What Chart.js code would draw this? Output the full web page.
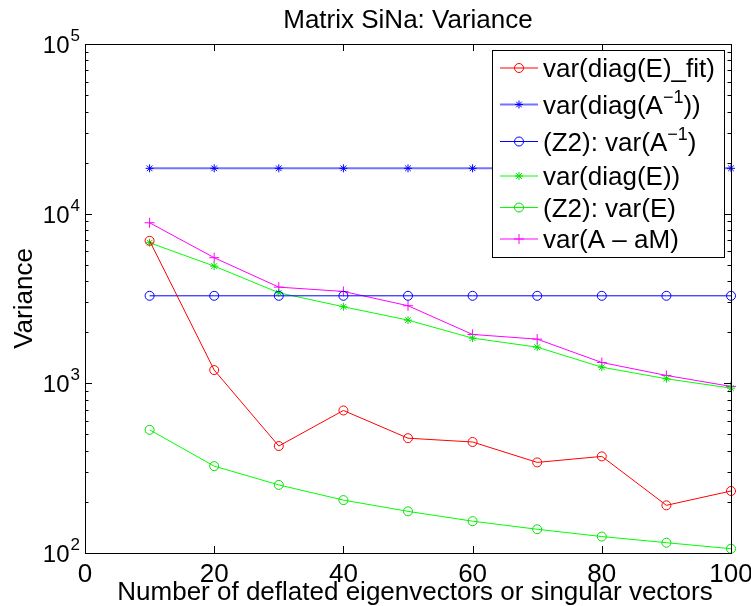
<!DOCTYPE html>
<html>
<head>
<meta charset="utf-8">
<script src="https://cdn.jsdelivr.net/npm/chart.js@4.4.0/dist/chart.umd.min.js"></script>
<style>
  body { margin: 0; background: #fff; }
  #wrap { width: 751px; height: 606px; }
</style>
</head>
<body>
<div id="wrap"><canvas id="variance-chart" width="751" height="606"></canvas></div>
<script>
// data
const nDeflated = [10, 20, 30, 40, 50, 60, 70, 80, 90, 100];
const varDiagEFit = [6920, 1197, 427, 692, 475, 451, 342, 371, 191, 232];
const varDiagAinv = [18500, 18500, 18500, 18500, 18500, 18500, 18500, 18500, 18500, 18500];
const z2VarAinv = [3280, 3280, 3280, 3280, 3280, 3280, 3280, 3280, 3280, 3280];
const varDiagE = [6740, 4908, 3420, 2827, 2358, 1847, 1634, 1245, 1064, 937];
const z2VarE = [532, 325, 252, 205, 176, 154, 138, 125, 115, 106];
const varAminusAM = [8840, 5500, 3690, 3480, 2866, 1941, 1822, 1327, 1113, 959];

const xTicks = [0, 20, 40, 60, 80, 100];
const yTicks = [100, 1000, 10000, 100000];
const yTickExp = ['2', '3', '4', '5'];

// legend labels: [text, superscript, text]
const legendLabels = [
  ['var(diag(E)_fit)', '', ''],
  ['var(diag(A', '\u22121', '))'],
  ['(Z2): var(A', '\u22121', ')'],
  ['var(diag(E))', '', ''],
  ['(Z2): var(E)', '', ''],
  ['var(A \u2013 aM)', '', '']
];

const FONT = '"Liberation Sans", Arial, Helvetica, sans-serif';

function pts(ys) {
  return nDeflated.map((x, i) => ({ x: x, y: ys[i] }));
}

function series(data, lineColor, markColor, style, radius, width) {
  return {
    data: pts(data),
    borderColor: lineColor,
    borderWidth: width,
    pointStyle: style,
    pointRadius: radius,
    pointBorderColor: markColor,
    pointBackgroundColor: 'rgba(0,0,0,0)',
    pointBorderWidth: 1,
    tension: 0,
    fill: false,
    clip: false
  };
}

const datasets = [
  series(varDiagEFit, '#ff0000', '#ff0000', 'circle', 4.5, 1),
  series(varDiagAinv, 'rgba(0,0,255,0.55)', '#0000ff', 'star', 4, 2),
  series(z2VarAinv, '#0000ff', '#0000ff', 'circle', 4.5, 1),
  series(varDiagE, '#00ff00', '#00e000', 'star', 4, 1),
  series(z2VarE, '#00ff00', '#00e000', 'circle', 4.5, 1),
  series(varAminusAM, '#ff00ff', '#ff00ff', 'cross', 5, 1)
];

function drawMarker(ctx, style, x, y, r, color) {
  ctx.save();
  ctx.strokeStyle = color;
  ctx.lineWidth = 1;
  ctx.beginPath();
  if (style === 'circle') {
    ctx.arc(x, y, r, 0, Math.PI * 2);
  } else if (style === 'cross') {
    ctx.moveTo(x - r, y); ctx.lineTo(x + r, y);
    ctx.moveTo(x, y - r); ctx.lineTo(x, y + r);
  } else {
    const d = r * 0.707;
    ctx.moveTo(x - r, y); ctx.lineTo(x + r, y);
    ctx.moveTo(x, y - r); ctx.lineTo(x, y + r);
    ctx.moveTo(x - d, y - d); ctx.lineTo(x + d, y + d);
    ctx.moveTo(x - d, y + d); ctx.lineTo(x + d, y - d);
  }
  ctx.stroke();
  ctx.restore();
}

// axes box, ticks, labels, title and legend, matlab style
const matlabFrame = {
  id: 'matlabFrame',
  afterDraw(chart) {
    const { ctx, chartArea: a, scales } = chart;
    const xs = scales.x, ys = scales.y;
    ctx.save();
    ctx.strokeStyle = '#000';
    ctx.fillStyle = '#000';
    ctx.lineWidth = 1;

    // box
    ctx.strokeRect(a.left + 0.5, a.top + 0.5, a.right - a.left, a.bottom - a.top);

    // x ticks, bottom + top
    ctx.beginPath();
    xTicks.forEach(v => {
      const px = Math.round(xs.getPixelForValue(v)) + 0.5;
      ctx.moveTo(px, a.bottom); ctx.lineTo(px, a.bottom - 7);
      ctx.moveTo(px, a.top); ctx.lineTo(px, a.top + 7);
    });
    // y ticks (major + minor), left + right
    for (let k = 0; k < yTicks.length; k++) {
      for (let m = 1; m <= 9; m++) {
        const v = yTicks[k] * m;
        if (v > yTicks[yTicks.length - 1]) break;
        const py = Math.round(ys.getPixelForValue(v)) + 0.5;
        const len = m === 1 ? 7 : 3.5;
        ctx.moveTo(a.left, py); ctx.lineTo(a.left + len, py);
        ctx.moveTo(a.right, py); ctx.lineTo(a.right - len, py);
      }
    }
    ctx.stroke();

    // x tick labels
    ctx.font = '26px ' + FONT;
    ctx.textAlign = 'center';
    ctx.textBaseline = 'alphabetic';
    xTicks.forEach(v => {
      ctx.fillText(String(v), xs.getPixelForValue(v), 582);
    });

    // y tick labels 10^n
    yTicks.forEach((v, i) => {
      const py = ys.getPixelForValue(v);
      ctx.font = '17px ' + FONT;
      const wSup = ctx.measureText(yTickExp[i]).width;
      ctx.textAlign = 'left';
      ctx.fillText(yTickExp[i], 80 - wSup, py - 3);
      ctx.font = '24px ' + FONT;
      ctx.textAlign = 'right';
      ctx.fillText('10', 80 - wSup - 1, py + 9);
    });

    // axis titles
    ctx.font = '26px ' + FONT;
    ctx.textAlign = 'center';
    ctx.fillText('Number of deflated eigenvectors or singular vectors', 415, 600);
    ctx.fillText('Matrix SiNa: Variance', (a.left + a.right) / 2, 28);
    ctx.save();
    ctx.translate(32, (a.top + a.bottom) / 2);
    ctx.rotate(-Math.PI / 2);
    ctx.fillText('Variance', 0, 0);
    ctx.restore();

    // legend
    const lx = 492, ly = 50, lw = 232, lh = 207;
    ctx.fillStyle = '#fff';
    ctx.fillRect(lx, ly, lw, lh);
    ctx.strokeStyle = '#000';
    ctx.strokeRect(lx + 0.5, ly + 0.5, lw, lh);
    const rowY = [68, 104.5, 141.5, 176, 207.5, 239];
    legendLabels.forEach((parts, i) => {
      const ds = chart.data.datasets[i];
      const y = rowY[i];
      ctx.save();
      ctx.strokeStyle = ds.borderColor;
      ctx.lineWidth = ds.borderWidth;
      ctx.beginPath();
      ctx.moveTo(500, y); ctx.lineTo(538, y);
      ctx.stroke();
      ctx.restore();
      drawMarker(ctx, ds.pointStyle, 519, y, ds.pointRadius, ds.pointBorderColor);

      ctx.fillStyle = '#000';
      ctx.textAlign = 'left';
      let tx = 543;
      ctx.font = '26px ' + FONT;
      ctx.fillText(parts[0], tx, y + 9);
      tx += ctx.measureText(parts[0]).width;
      if (parts[1]) {
        ctx.font = '18px ' + FONT;
        ctx.fillText(parts[1], tx, y - 2);
        tx += ctx.measureText(parts[1]).width;
        ctx.font = '26px ' + FONT;
        ctx.fillText(parts[2], tx, y + 9);
      }
    });

    ctx.restore();
  }
};

const config = {
  type: 'line',
  data: { datasets: datasets },
  options: {
    responsive: false,
    animation: false,
    events: [],
    layout: { padding: { left: 85, right: 20, top: 44, bottom: 53 } },
    scales: {
      x: { type: 'linear', min: 0, max: 100, display: false },
      y: { type: 'logarithmic', min: 100, max: 100000, display: false }
    },
    plugins: {
      legend: { display: false },
      tooltip: { enabled: false },
      title: { display: false }
    }
  },
  plugins: [matlabFrame]
};

const varianceChart = new Chart(document.getElementById('variance-chart').getContext('2d'), config);
</script>
</body>
</html>
